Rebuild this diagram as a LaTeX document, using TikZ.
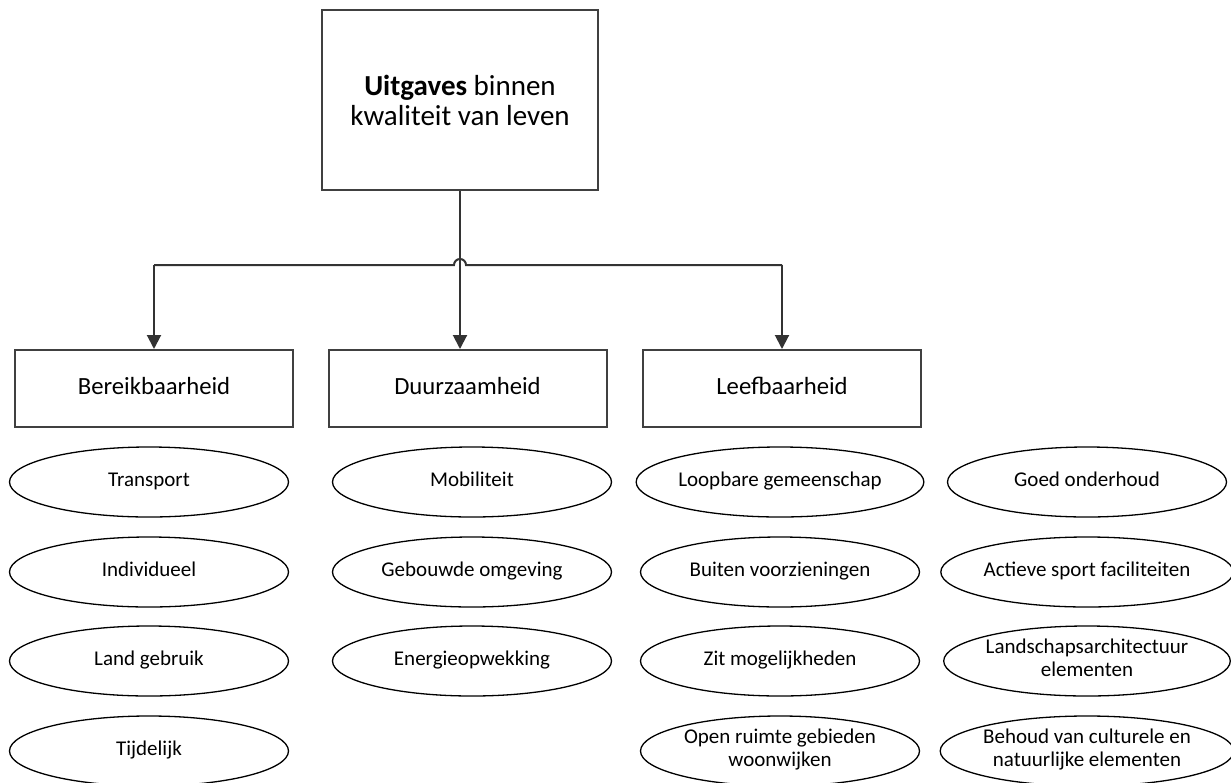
\documentclass[tikz,border=0pt]{standalone}
\usepackage{fontspec}
\setmainfont{Carlito}
\usetikzlibrary{shapes.geometric,arrows.meta}
\tikzset{
  hoofd/.style={draw=black!75, line width=2pt, minimum width=276pt, minimum height=180pt,
    align=center, font=\fontsize{29}{30}\selectfont},
  pijler/.style={draw=black!75, line width=2pt, minimum width=278pt, minimum height=77pt,
    font=\fontsize{24.7}{28}\selectfont, execute at begin node=\strut},
  item/.style={draw, ellipse, line width=1.3pt, minimum width=279pt, minimum height=70pt,
    inner sep=0pt, align=center, font=\fontsize{21}{23}\selectfont,
    execute at begin node=\strut},
  verbind/.style={draw=black!80, line width=2pt}
}
\begin{document}
\begin{tikzpicture}[x=1pt, y=1pt, >={Triangle[length=14pt,width=14pt]}]
        \useasboundingbox (0,0) rectangle (1231,-782);
        \node [hoofd] (top) at (460,-100) {\textbf{Uitgaves} binnen\\kwaliteit van leven};
        \node [pijler] (bereik) at (154,-388.5) {Bereikbaarheid};
        \node [pijler] (duurzaam) at (467.5,-388.5) {Duurzaamheid};
        \node [pijler] (leef) at (782,-388.5) {Leefbaarheid};
        \coordinate (j1) at (bereik.north |- 0,-265);
        \coordinate (j3) at (leef.north |- 0,-265);
        \coordinate (hop) at (top.south |- j1);
        \draw [verbind] (j1) -- ([xshift=-6pt]hop) arc [start angle=180, end angle=0, radius=6pt] -- (j3);
        \draw [verbind,->] (top.south) -- (top.south |- duurzaam.north);
        \draw [verbind,->] (j1) -- (bereik.north);
        \draw [verbind,->] (j3) -- (leef.north);
        \foreach \naam/\tekst/\x/\y in {
            transport/Transport/149/482, individueel/Individueel/149/572,
            land/Land gebruik/149/661, tijdelijk/Tijdelijk/149/751,
            mobiliteit/Mobiliteit/472/482, gebouwd/Gebouwde omgeving/472/572,
            energie/Energieopwekking/472/661,
            loopbaar/Loopbare gemeenschap/780/482, buiten/Buiten voorzieningen/780/572,
            zit/Zit mogelijkheden/780/661, open/{Open ruimte gebieden\\woonwijken}/780/751,
            onderhoud/Goed onderhoud/1087/482, sport/Actieve sport faciliteiten/1087/572,
            landschap/{Landschapsarchitectuur\\elementen}/1087/661,
            behoud/{Behoud van culturele en\\natuurlijke elementen}/1087/751}
        {
            \node [item] (\naam) at (\x,-\y) {\tekst};
        }
\end{tikzpicture}
\end{document}
